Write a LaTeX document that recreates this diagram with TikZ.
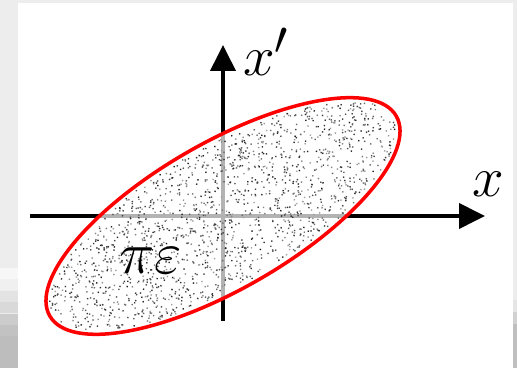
\documentclass[tikz,border=0pt]{standalone}
\usetikzlibrary{arrows.meta}

\tikzset{
    axis/.style={line width=2.2pt, -{Triangle[length=0.52cm, width=0.5cm]}},
    beam/.style={draw=red, line width=2pt},
    lbl/.style={font=\Huge, scale=1.3, transform shape, inner sep=0pt},
}

\begin{document}
\begin{tikzpicture}[x=0.02cm, y=0.02cm]
    % frame
    \fill[black!7] (0,0) rectangle (517,368);
    \fill[white] (18,0) rectangle (513,365);
    \foreach \y/\g in {89/3, 78/6, 66/11, 55/15, 43/20, 32/24, 0/26} {
        \fill[black!\g] (0,\y) rectangle (18,\y+11);
    }
    \fill[black!26] (0,0) rectangle (18,32);
    \foreach \y/\g in {56/10, 44/18, 0/25} {
        \fill[black!\g] (513,\y) rectangle (517,\y+12);
    }
    \fill[black!25] (513,0) rectangle (517,44);

    % axes
    \coordinate (O) at (223,152);
    \coordinate (xmin) at (30,152);
    \coordinate (xmax) at (485,152);
    \coordinate (ymin) at (223,47);
    \coordinate (ymax) at (223,323);
    \draw[axis] (xmin) -- (xmax);
    \draw[axis] (ymin) -- (ymax);

    % phase space ellipse
    \fill[white, fill opacity=0.7, rotate around={30:(O)}] (O) ellipse (200 and 73);
    \pgfmathsetseed{11}
    \begin{scope}[shift={(O)}, rotate=30]
        \foreach \i in {1,...,1700} {
            \pgfmathsetmacro\rr{sqrt(rnd)}
            \pgfmathsetmacro\tt{360*rnd}
            \pgfmathsetmacro\gg{int(35+55*rnd)}
            \fill[black!\gg] ({196*\rr*cos(\tt)}, {69*\rr*sin(\tt)}) circle (0.55pt);
        }
    \end{scope}
    \draw[beam, rotate around={30:(O)}] (O) ellipse (200 and 73);

    % labels
    \node[lbl] (xp) at (266,316) {$x'$};
    \node[lbl] (xl) at (488,184) {$x$};
    \node[lbl, scale=1.05] (emit) at (151,107) {$\pi\varepsilon$};
\end{tikzpicture}
\end{document}
